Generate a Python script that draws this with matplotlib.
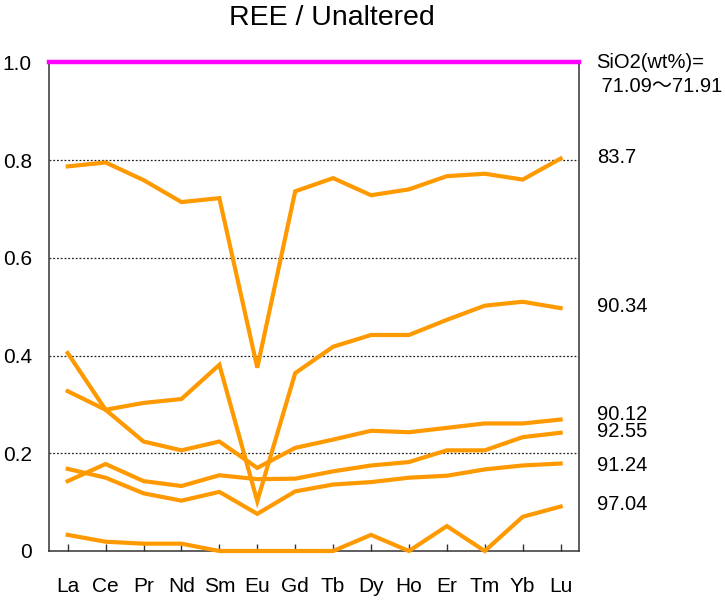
import matplotlib
matplotlib.use("Agg")
import matplotlib.pyplot as plt

plt.rcParams['font.family'] = ['Liberation Sans', 'Noto Sans CJK JP', 'DejaVu Sans']

elements = ["La", "Ce", "Pr", "Nd", "Sm", "Eu", "Gd", "Tb", "Dy", "Ho", "Er", "Tm", "Yb", "Lu"]

s_83_7 = [0.787, 0.795, 0.759, 0.714, 0.722, 0.375, 0.736, 0.763, 0.728, 0.740, 0.767, 0.772, 0.760, 0.803]
s_90_34 = [0.327, 0.289, 0.303, 0.311, 0.381, 0.102, 0.364, 0.418, 0.442, 0.442, 0.473, 0.502, 0.510, 0.497]
s_90_12 = [0.405, 0.289, 0.224, 0.206, 0.224, 0.170, 0.211, 0.228, 0.246, 0.243, 0.252, 0.261, 0.261, 0.269]
s_92_55 = [0.143, 0.178, 0.143, 0.133, 0.155, 0.147, 0.148, 0.163, 0.175, 0.182, 0.206, 0.206, 0.233, 0.242]
s_91_24 = [0.168, 0.150, 0.118, 0.103, 0.121, 0.076, 0.122, 0.136, 0.141, 0.150, 0.154, 0.167, 0.175, 0.179]
s_97_04 = [0.033, 0.019, 0.015, 0.015, 0.0, 0.0, 0.0, 0.0, 0.033, 0.0, 0.051, 0.0, 0.070, 0.091]

series = [s_83_7, s_90_34, s_90_12, s_92_55, s_91_24, s_97_04]

right_labels = ["83.7", "90.34", "90.12", "92.55", "91.24", "97.04"]
right_label_y = [0.806, 0.501, 0.280, 0.244, 0.175, 0.096]

yticks = [0, 0.2, 0.4, 0.6, 0.8, 1.0]
ytick_labels = ["0", "0.2", "0.4", "0.6", "0.8", "1.0"]

fig = plt.figure(figsize=(7.25, 6.0), dpi=100)
ax = fig.add_axes([49.3 / 725, (600 - 551) / 600, (579 - 49.3) / 725, (551 - 62.3) / 600])

x = list(range(len(elements)))
for s in series:
    ax.plot(x, s, color='#FF9900', lw=3.0, solid_joinstyle='miter', zorder=3, clip_on=False)

ax.axhline(1.0, color='#FF00FF', lw=3.2, zorder=4, clip_on=False)

ax.set_xlim(-0.485, 13.485)
ax.set_ylim(0, 1.0)

for yv in [0.2, 0.4, 0.6, 0.8]:
    ax.axhline(yv, color='#222222', lw=0.9, ls=(0, (1.5, 1.5)), zorder=1)

ax.set_xticks(x)
ax.set_xticklabels(elements, fontsize=15)
ax.set_yticks(yticks)
ax.set_yticklabels(ytick_labels, fontsize=15)
ax.tick_params(axis='x', direction='in', length=5, width=1.0, color='#333333', pad=19)
ax.tick_params(axis='y', length=0, pad=12.5)

for side in ['left', 'right', 'bottom']:
    ax.spines[side].set_color('#333333')
    ax.spines[side].set_linewidth(1.1)
ax.spines['top'].set_visible(False)

fig.text(332 / 725, 1 - 18 / 600, "REE / Unaltered", ha='center', va='center', fontsize=20.5)

fig.text(596 / 725, 1 - 62 / 600, "SiO2(wt%)=", ha='left', va='center', fontsize=14.5)
fig.text(596 / 725, 1 - 86 / 600, " 71.09～71.91", ha='left', va='center', fontsize=14.5)

for lab, yv in zip(right_labels, right_label_y):
    ax.annotate(lab, xy=(1.0, yv), xycoords=('axes fraction', 'data'),
                xytext=(18, 0), textcoords='offset pixels',
                ha='left', va='center', fontsize=14.5, annotation_clip=False)

fig.savefig("out.png", dpi=100, facecolor='white')
